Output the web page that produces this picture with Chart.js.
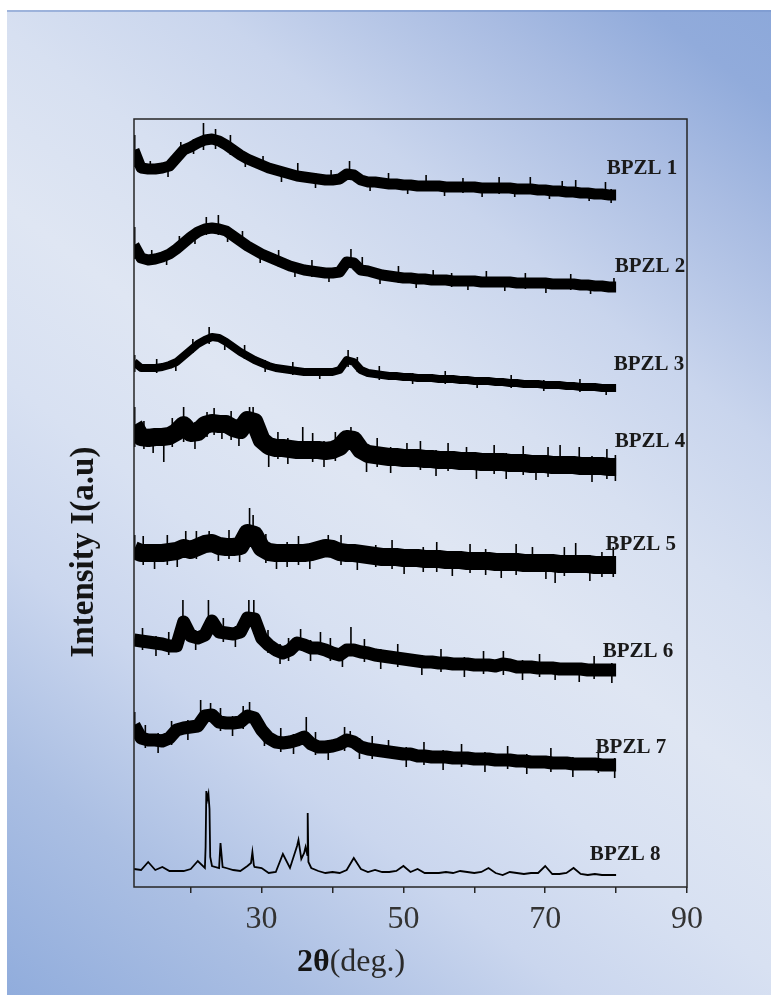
<!DOCTYPE html>
<html><head><meta charset="utf-8">
<script src="https://cdn.jsdelivr.net/npm/chart.js@4.4.1/dist/chart.umd.min.js"></script>
<style>html,body{margin:0;padding:0;background:#fff;overflow:hidden}canvas{display:block}</style>
</head><body>
<canvas id="c" width="771" height="995"></canvas>
<script>
// 2θ grid (degrees)
const twoTheta = [12,13,14,15,16,17,18,19,20,21,22,23,24,25,26,27,28,29,30,31,32,33,34,35,36,37,38,39,40,41,42,43,44,45,46,47,48,49,50,51,52,53,54,55,56,57,58,59,60,61,62,63,64,65,66,67,68,69,70,71,72,73,74,75,76,77,78,79,80];

// Intensities (a.u., stacked)
const bpzl1 = [737,719,718,718,719,721,729,737,740,744, 747,748,746,742,737,732,728,725,722,719, 717,715,713,711,710,709,708,707,707,708, 713,712,707,705,705,704,703,703,702,702, 701,701,701,701,700,700,700,700,700,699, 699,699,699,699,698,698,698,697,697,696, 696,695,695,694,694,693,693,692,692];
const bpzl2 = [642,629,627,628,630,633,638,644,650,655, 658,659,658,656,651,646,641,637,633,630, 627,624,621,619,617,616,615,614,614,615, 625,624,617,616,614,612,611,610,609,609, 608,608,607,607,607,606,606,606,606,605, 605,605,605,605,604,604,604,604,604,603, 603,603,603,602,602,601,601,600,600];
const bpzl3 = [525,519,519,519,520,522,525,531,537,543, 547,550,549,545,540,535,531,527,524,521, 519,518,517,516,515,515,515,515,515,517, 527,525,517,514,513,512,511,511,510,510, 509,509,509,508,508,508,507,507,506,506, 506,505,505,504,504,503,503,503,502,502, 502,501,501,500,500,500,499,499,499];
const bpzl4 = [462,450,449,450,450,451,455,462,454,455, 462,464,463,463,459,457,467,465,447,441, 439,439,438,437,437,437,437,436,437,440, 448,447,437,433,432,431,430,430,429,429, 429,428,428,427,427,427,426,426,426,425, 425,425,425,424,424,424,423,423,423,422, 422,422,422,421,421,421,421,420,420];
const bpzl5 = [337,334,334,334,334,335,336,339,337,340, 343,344,341,340,340,341,354,352,339,335, 334,334,334,334,334,335,337,339,338,335, 334,334,333,332,331,330,330,330,329,329, 329,328,328,328,327,327,327,326,326,326, 326,325,325,325,325,324,324,324,324,324, 323,323,323,323,323,322,322,322,322];
const bpzl6 = [247,246,245,244,243,241,241,265,251,249, 252,266,255,254,253,255,269,268,249,242, 237,234,237,244,242,239,239,237,234,232, 237,237,235,234,232,231,230,229,228,227, 226,225,225,224,224,223,223,223,222,222, 222,221,223,222,220,220,220,219,219,219, 218,218,218,218,217,217,217,217,217];
const bpzl7 = [162,149,147,147,146,149,157,159,160,161, 171,172,165,164,164,165,171,169,157,149, 145,144,145,147,150,143,140,140,141,143, 147,145,140,138,137,136,135,134,133,133, 131,131,130,130,130,129,129,129,128,128, 128,127,127,127,126,126,125,125,125,124, 124,124,123,123,123,123,122,122,122];
const bpzl8 = [18,17,25,17,20,16,16,16,18,26, 19,21,19,19,17,16,21,20,19,14, 15,33,19,41,34,19,16,14,15,14, 17,29,18,15,17,15,15,16,21,15, 18,14,14,14,15,14,16,15,14,15, 19,14,12,15,14,13,14,14,21,13, 13,14,19,13,12,13,12,12,12];

// sharp reflections of BPZL 8: [2θ, intensity]
const peaks8 = [[22.1,40],[22.2,96],[22.35,88],[22.5,93],[22.65,78],[22.75,30],[24.2,44],[24.5,20],[28.5,24],[28.7,35],[28.9,22],[35.2,47],[35.6,28],[36.2,40],[36.45,32],[36.5,74],[36.6,25]];

// noise spikes: [2θ, low, high]
const spikes1 = [[12.1,720,752],[14.3,713,726],[16.8,710,724],[18.6,729,745],[20.4,733,748],[21.8,737,764],[23.5,738,758],[25.6,732,752],[27.7,720,735],[30.2,716,731],[32.8,705,720],[35.1,707,724],[37.6,699,714],[39.8,702,717],[42.4,708,726],[45.3,696,710],[47.9,699,714],[50.6,693,706],[53.2,696,712],[55.8,691,705],[58.4,694,709],[61.1,690,704],[63.5,693,710],[65.7,690,703],[67.9,694,710],[70.6,688,701],[72.4,691,706],[74.3,690,707],[76.2,686,699],[78.5,689,705],[79.3,684,698]];
const spikes2 = [[12.1,628,660],[14.5,622,637],[16.6,622,635],[18.4,635,651],[20.6,643,657],[22.2,652,670],[23.9,652,672],[25.2,645,660],[27.3,639,656],[29.8,624,638],[32.4,620,637],[34.7,610,624],[37.1,610,627],[39.5,605,618],[42.6,622,638],[44.2,612,630],[46.7,603,617],[49.3,604,621],[51.8,599,613],[54.2,602,617],[56.8,600,614],[59.1,597,610],[61.7,600,616],[64.3,596,609],[67.2,598,614],[70.1,594,608],[73.6,597,613],[76.4,593,606],[79.7,596,609]];
const spikes3 = [[12.1,515,532],[15.2,514,528],[17.9,516,529],[20.3,534,548],[22.6,543,560],[24.8,537,550],[27.6,528,542],[30.5,515,527],[34.4,512,525],[38.2,508,519],[42.2,520,537],[43.5,515,530],[46.6,507,521],[51.3,503,514],[55.9,503,516],[60.4,499,510],[65.2,499,512],[69.8,496,507],[74.9,495,508],[78.6,492,503]];
const spikes4 = [[12.1,440,480],[13.4,438,466],[14.7,434,458],[16.2,425,445],[17.4,440,469],[19.0,445,480],[20.6,438,465],[22.3,450,475],[23.3,452,479],[24.4,448,472],[25.7,447,476],[26.8,441,466],[28.3,455,480],[28.8,455,480],[29.6,440,472],[31.0,420,440],[32.3,428,455],[33.7,423,449],[35.8,435,460],[37.2,425,454],[38.8,420,446],[40.4,426,455],[42.6,440,460],[44.8,415,432],[46.3,420,449],[48.2,414,440],[50.5,420,444],[52.4,417,446],[54.6,411,437],[56.3,416,444],[58.9,418,440],[60.3,408,425],[62.8,413,442],[64.5,408,434],[66.9,412,441],[68.7,407,432],[70.4,410,440],[72.1,418,442],[74.8,418,440],[76.6,405,431],[78.7,408,438],[79.9,406,432]];
const spikes5 = [[12.1,330,352],[13.3,322,351],[14.9,318,343],[16.7,322,352],[18.1,320,345],[19.3,335,356],[20.8,328,356],[22.6,338,356],[23.9,326,350],[25.4,328,357],[26.9,325,350],[28.3,345,379],[28.8,345,372],[30.6,324,353],[32.1,318,343],[33.6,320,345],[35.2,322,351],[36.8,318,344],[39.4,330,352],[41.2,322,352],[43.5,317,342],[46.1,320,342],[48.4,318,347],[50.1,313,338],[52.8,315,340],[54.7,315,345],[56.9,311,336],[59.4,314,343],[61.6,312,338],[63.8,309,334],[65.9,312,343],[68.2,315,340],[70.1,308,333],[71.4,304,325],[72.7,311,340],[74.3,318,344],[76.3,306,332],[78.0,310,335],[79.6,310,340]];
const spikes6 = [[13.2,237,259],[15.1,231,251],[16.9,232,255],[18.9,250,287],[20.7,237,257],[22.5,255,287],[24.6,245,269],[26.3,240,261],[28.2,260,287],[28.9,260,287],[30.9,234,257],[32.6,223,243],[33.8,226,249],[35.5,240,258],[36.9,226,247],[38.3,235,255],[39.7,226,249],[41.4,220,240],[42.6,235,260],[44.5,225,248],[46.8,218,238],[49.2,220,243],[52.6,212,232],[55.3,215,238],[58.6,210,230],[61.3,213,236],[64.1,212,236],[66.8,207,227],[69.2,210,233],[71.4,207,225],[74.8,205,222],[76.9,208,231],[79.4,204,224]];
const spikes7 = [[12.1,150,175],[13.6,139,162],[15.4,134,154],[17.3,142,166],[19.6,147,167],[21.4,160,187],[22.8,165,184],[24.2,156,179],[25.9,151,171],[27.4,158,181],[28.3,165,185],[30.4,141,161],[32.7,135,159],[34.5,133,153],[36.3,148,170],[37.6,132,155],[39.4,127,147],[41.7,136,160],[42.5,140,156],[43.8,128,149],[45.6,128,151],[47.9,130,147],[50.4,120,140],[52.9,122,145],[55.6,117,137],[58.2,120,143],[61.5,115,135],[64.7,118,141],[67.4,113,133],[70.8,115,139],[73.9,110,130],[77.5,114,137],[79.8,109,129]];
const spikes8 = [];

const seriesNames = ['BPZL 1','BPZL 2','BPZL 3','BPZL 4','BPZL 5','BPZL 6','BPZL 7','BPZL 8'];
// label anchors in data coordinates [2θ, intensity]
const labelAnchors = [[78.67,718],[79.8,620],[79.66,522],[79.8,445],[78.5,342],[78.1,235],[77.1,139],[76.3,32]];

const xTickValues = [20,30,40,50,60,70,80,90];
const xTickLabels = ['30','50','70','90'];

const seriesValues = [bpzl1,bpzl2,bpzl3,bpzl4,bpzl5,bpzl6,bpzl7,bpzl8];
const seriesPeaks = [null,null,null,null,null,null,null,peaks8];
const seriesSpikes = [spikes1,spikes2,spikes3,spikes4,spikes5,spikes6,spikes7,spikes8];
const bandWidths = [11,11,8,18,18,13,13,1.8];

function linePts(vals, extras){
  const p = twoTheta.map((x,i)=>({x, y: vals[i]}));
  if (extras) extras.forEach(([x,y])=>p.push({x,y}));
  p.sort((a,b)=>a.x-b.x);
  return p;
}
function spikePts(sp){
  const p=[];
  sp.forEach(([x,lo,hi])=>{p.push({x,y:lo},{x,y:hi},{x,y:null});});
  return p;
}

const datasets = [];
seriesValues.forEach((vals,i)=>{
  datasets.push({label: seriesNames[i], data: linePts(vals, seriesPeaks[i]), borderColor:'#000', borderWidth: bandWidths[i],
    pointRadius:0, tension:0, fill:false, clip:0, borderJoinStyle: i===7?'miter':'round', borderCapStyle:'butt'});
  if (seriesSpikes[i].length) datasets.push({label: seriesNames[i]+' spikes', data: spikePts(seriesSpikes[i]), borderColor:'#000', borderWidth:1.6,
    pointRadius:0, spanGaps:false, fill:false, clip:0});
});

const bgPlugin = {
  id:'bg',
  beforeDraw(chart){
    const {ctx, width, height} = chart;
    ctx.save();
    ctx.fillStyle = '#ffffff';
    ctx.fillRect(0,0,width,height);
    const g = ctx.createLinearGradient(width,0,0,height);
    g.addColorStop(0,'#8ca8da');
    g.addColorStop(0.065,'#91abdb');
    g.addColorStop(0.15,'#a9bce2');
    g.addColorStop(0.28,'#c9d5ed');
    g.addColorStop(0.39,'#d7e0f1');
    g.addColorStop(0.5,'#dfe6f3');
    g.addColorStop(0.61,'#d8e1f2');
    g.addColorStop(0.72,'#cad6ee');
    g.addColorStop(0.85,'#abbfe3');
    g.addColorStop(1,'#90acdc');
    ctx.fillStyle = g;
    ctx.fillRect(7,10,width-7,height-10);
    ctx.fillStyle = 'rgba(120,150,205,0.6)';
    ctx.fillRect(7,10,width-7,2);
    ctx.restore();
  }
};

const decoPlugin = {
  id:'deco',
  afterDraw(chart){
    const {ctx, chartArea:a, scales:{x,y}} = chart;
    ctx.save();
    ctx.strokeStyle = '#262626';
    ctx.lineWidth = 1.5;
    ctx.strokeRect(a.left, a.top, a.right-a.left, a.bottom-a.top);
    ctx.fillStyle = '#1a1a1a';
    ctx.font = 'bold 21px "Liberation Serif"';
    ctx.textAlign = 'left';
    ctx.textBaseline = 'middle';
    seriesNames.forEach((n,i)=>{
      ctx.fillText(n, x.getPixelForValue(labelAnchors[i][0]), y.getPixelForValue(labelAnchors[i][1]));
    });
    ctx.save();
    ctx.translate(a.left-50, (a.top+a.bottom)/2+49);
    ctx.rotate(-Math.PI/2);
    ctx.textAlign='center';
    ctx.textBaseline='middle';
    ctx.font='bold 33px "Liberation Serif"';
    ctx.fillStyle='#141414';
    ctx.fillText('Intensity I(a.u)',0,0);
    ctx.restore();
    const bx = a.left+163, by = a.bottom+84;
    ctx.textAlign='left';
    ctx.textBaseline='alphabetic';
    ctx.fillStyle='#141414';
    ctx.font='bold 32px "Liberation Serif"';
    ctx.fillText('2θ', bx, by);
    const w = ctx.measureText('2θ').width;
    ctx.font='32px "Liberation Serif"';
    ctx.fillStyle='#2a2a2a';
    ctx.fillText('(deg.)', bx+w, by);
    ctx.restore();
  }
};

new Chart(document.getElementById('c'), {
  type:'line',
  data:{datasets},
  options:{
    responsive:false, animation:false, events:[],
    layout:{padding:{left:134, right:84, top:119, bottom:0}},
    plugins:{legend:{display:false}, tooltip:{enabled:false}},
    scales:{
      x:{type:'linear', min:12, max:90,
        afterBuildTicks(s){ s.ticks = xTickValues.map(v=>({value:v})); },
        afterFit(s){ s.height = 108; },
        grid:{drawOnChartArea:false, drawTicks:true, tickLength:6, color:'#262626', lineWidth:1.5},
        border:{display:false},
        ticks:{autoSkip:false, maxRotation:0, padding:7, color:'#333', font:{family:'"Liberation Serif"', size:32},
          callback(v){ const s=String(v); return xTickLabels.includes(s)? s : ''; }}
      },
      y:{display:false, min:0, max:768}
    }
  },
  plugins:[bgPlugin, decoPlugin]
});
</script>
</body></html>
